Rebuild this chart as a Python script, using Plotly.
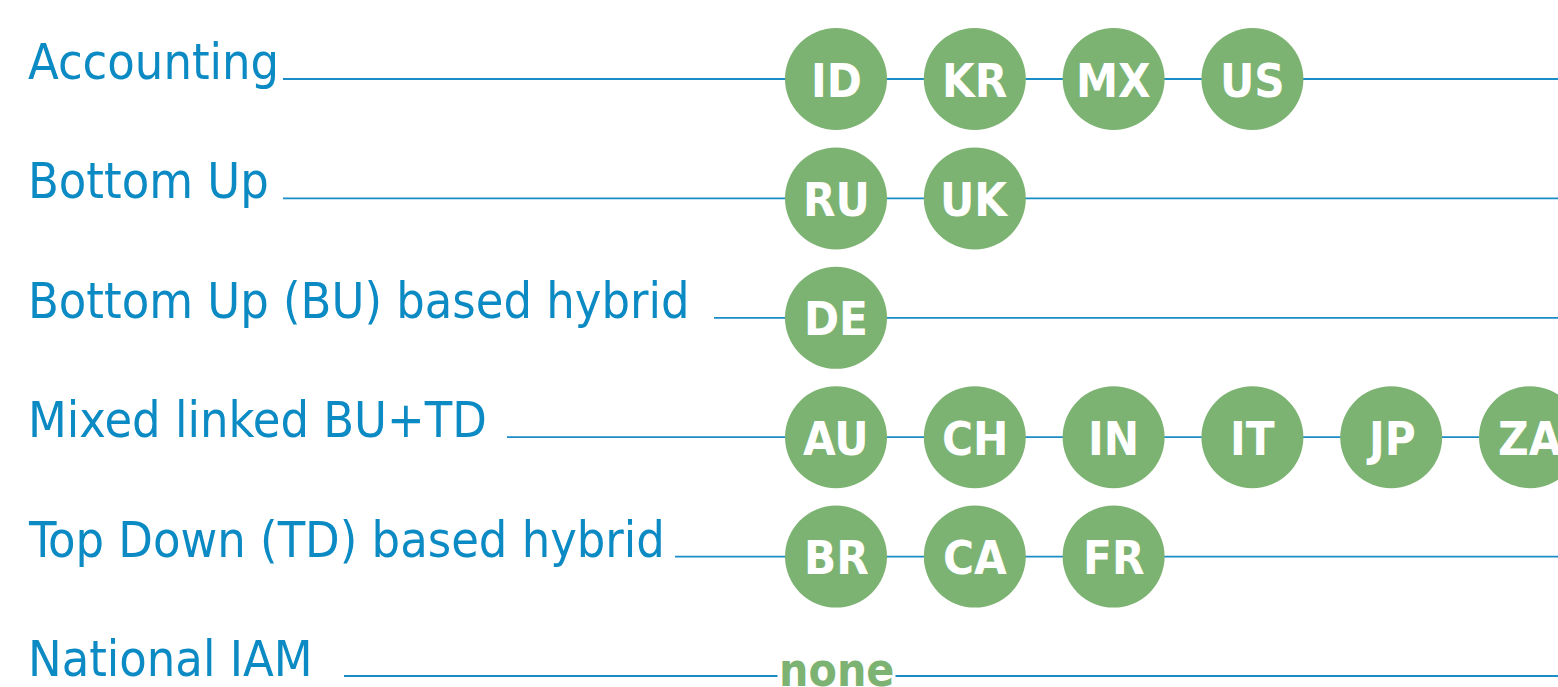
import plotly.graph_objects as go

# ---- data ----
categories = [
    "Accounting",
    "Bottom Up",
    "Bottom Up (BU) based hybrid",
    "Mixed linked BU+TD",
    "Top Down (TD) based hybrid",
    "National IAM",
]
countries = [
    ["ID", "KR", "MX", "US"],
    ["RU", "UK"],
    ["DE"],
    ["AU", "CH", "IN", "IT", "JP", "ZA"],
    ["BR", "CA", "FR"],
    [],
]
empty_label = "none"

# ---- layout constants (pixels) ----
W, H = 1558, 687
ROW0, ROW_STEP = 79, 119.4          # y of first rule, spacing between rules
SLOT_X0, SLOT_DX = 836, 138.8       # x of first country circle, spacing
LABEL_X = 26
LINE_START = [283, 283, 714, 507, 675, 344]

BLUE = "#0b8ac3"
LINE_BLUE = "#1a8dc6"
GREEN = "#7db372"
FONT = "DejaVu Sans Condensed, Liberation Sans Narrow, Arial Narrow, sans-serif"

# y axis in row units, x axis in pixels
y_lo = -ROW0 / ROW_STEP
y_hi = (H - ROW0) / ROW_STEP

fig = go.Figure()

# horizontal rules
for i, cat in enumerate(categories):
    fig.add_trace(go.Scatter(
        x=[LINE_START[i], W + 5], y=[i, i], mode="lines",
        line=dict(color=LINE_BLUE, width=1.8), hoverinfo="skip", showlegend=False,
    ))

annotations = []

# country circles
for i, codes in enumerate(countries):
    if not codes:
        continue
    xs = [SLOT_X0 + j * SLOT_DX for j in range(len(codes))]
    fig.add_trace(go.Scatter(
        x=xs, y=[i] * len(codes), mode="markers",
        marker=dict(size=102, color=GREEN, line=dict(width=0)),
        cliponaxis=True, hoverinfo="skip", showlegend=False,
    ))
    for x, code in zip(xs, codes):
        annotations.append(dict(
            x=x, y=i, xref="x", yref="y", text=code, showarrow=False,
            xanchor="center", yanchor="middle", yshift=-1,
            font=dict(family=FONT, size=47, color="white", weight="bold"),
        ))

for i, cat in enumerate(categories):
    annotations.append(dict(
        x=LABEL_X, y=i, xref="x", yref="y", text=cat, showarrow=False,
        xanchor="left", yanchor="middle", yshift=17,
        font=dict(family=FONT, size=50, color=BLUE),
    ))
    if not countries[i]:
        annotations.append(dict(
            x=SLOT_X0, y=i, xref="x", yref="y", text=empty_label, showarrow=False,
            xanchor="center", yanchor="middle", yshift=6,
            bgcolor="white", borderpad=1,
            font=dict(family=FONT, size=46, color=GREEN, weight="bold"),
        ))

fig.update_layout(
    width=W, height=H,
    margin=dict(l=0, r=0, t=0, b=0),
    paper_bgcolor="white", plot_bgcolor="white",
    xaxis=dict(range=[0, W], visible=False, fixedrange=True),
    yaxis=dict(range=[y_hi, y_lo], visible=False, fixedrange=True),
    annotations=annotations,
    hovermode=False,
)

fig.write_html(
    "out.html",
    config={"displayModeBar": False, "staticPlot": True},
    post_script="document.body.style.margin='0';document.body.style.overflow='hidden';",
)
